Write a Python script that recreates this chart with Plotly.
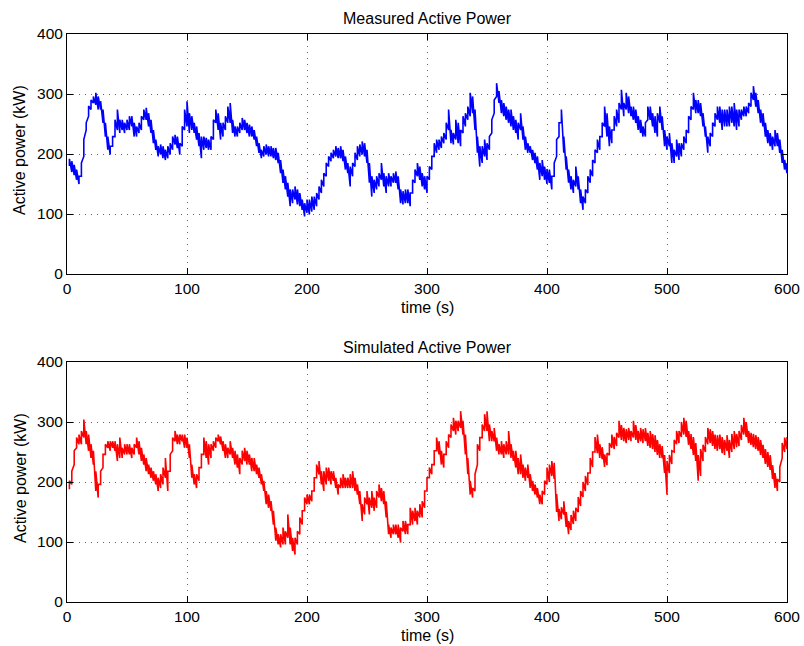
import plotly.graph_objects as go

# time base (s)
t = list(range(2, 601, 2))

# Measured active power: lower / upper edge of the noisy trace (kW)
meas_low = [
    180, 170, 165, 157, 150, 163, 196, 240, 263, 274, 285, 282, 274, 274, 252, 229, 207, 199, 213, 229,
    240, 235, 240, 235, 240, 240, 246, 229, 229, 235, 240, 257, 257, 246, 235, 218, 207, 196, 199, 193,
    190, 193, 199, 207, 216, 210, 199, 213, 240, 246, 235, 240, 235, 224, 213, 193, 207, 210, 207, 207,
    224, 252, 240, 224, 229, 240, 252, 252, 235, 229, 229, 235, 240, 240, 235, 229, 229, 224, 213, 202,
    193, 196, 199, 196, 196, 193, 190, 185, 168, 152, 141, 129, 113, 118, 124, 116, 113, 107, 96, 102,
    99, 104, 107, 113, 124, 135, 146, 163, 179, 188, 193, 196, 193, 193, 188, 174, 168, 146, 163, 179,
    190, 196, 199, 196, 185, 152, 129, 135, 141, 146, 157, 146, 135, 146, 146, 152, 152, 141, 118, 116,
    118, 118, 113, 135, 152, 163, 157, 146, 141, 135, 157, 174, 196, 202, 207, 210, 218, 224, 240, 218,
    216, 224, 218, 213, 235, 246, 257, 263, 268, 240, 202, 179, 185, 196, 190, 207, 235, 268, 296, 285,
    268, 263, 257, 252, 246, 240, 235, 224, 240, 224, 207, 202, 202, 190, 185, 174, 157, 163, 157, 150,
    152, 141, 163, 196, 229, 252, 202, 174, 152, 141, 135, 146, 141, 118, 107, 118, 135, 152, 163, 185,
    202, 207, 229, 246, 229, 213, 218, 240, 246, 252, 274, 263, 274, 268, 263, 257, 252, 240, 235, 229,
    229, 257, 257, 246, 235, 229, 252, 240, 213, 207, 213, 185, 185, 196, 190, 196, 207, 218, 235, 257,
    274, 268, 268, 263, 246, 229, 202, 213, 229, 246, 257, 252, 240, 246, 246, 246, 252, 246, 240, 246,
    257, 263, 263, 268, 279, 290, 279, 268, 252, 246, 229, 218, 213, 207, 213, 213, 202, 185, 174, 168,
]
meas_high = [
    192, 188, 182, 174, 163, 185, 224, 252, 280, 290, 296, 302, 296, 288, 274, 252, 229, 213, 229, 257,
    274, 257, 257, 252, 257, 263, 263, 252, 246, 252, 263, 274, 277, 268, 257, 240, 224, 213, 216, 213,
    207, 213, 218, 229, 232, 229, 218, 246, 274, 288, 268, 263, 252, 246, 235, 229, 229, 227, 224, 229,
    257, 274, 268, 252, 252, 263, 279, 285, 257, 246, 246, 252, 260, 257, 252, 249, 246, 240, 229, 218,
    207, 213, 216, 213, 213, 210, 210, 202, 190, 174, 163, 152, 141, 141, 146, 141, 135, 124, 118, 124,
    124, 129, 129, 135, 146, 157, 168, 185, 196, 202, 207, 213, 210, 213, 207, 196, 185, 179, 185, 202,
    213, 216, 221, 218, 207, 185, 163, 157, 163, 168, 185, 168, 163, 168, 163, 168, 171, 163, 141, 138,
    141, 141, 135, 157, 174, 185, 179, 168, 163, 163, 179, 196, 218, 224, 224, 229, 235, 252, 274, 240,
    235, 257, 252, 240, 263, 268, 279, 302, 296, 274, 229, 213, 213, 224, 218, 229, 257, 290, 318, 305,
    290, 285, 279, 274, 274, 263, 257, 252, 268, 246, 229, 218, 213, 207, 202, 196, 185, 190, 179, 175,
    174, 163, 185, 224, 252, 274, 229, 196, 174, 163, 157, 179, 163, 141, 129, 141, 163, 174, 190, 207,
    224, 229, 252, 279, 268, 246, 240, 263, 274, 285, 307, 285, 302, 296, 279, 279, 274, 263, 257, 246,
    252, 279, 279, 268, 263, 268, 279, 263, 240, 229, 235, 218, 207, 224, 218, 218, 229, 240, 263, 279,
    302, 290, 290, 285, 268, 246, 229, 235, 252, 268, 279, 279, 274, 274, 274, 279, 279, 285, 274, 274,
    274, 279, 279, 285, 302, 313, 302, 290, 274, 268, 252, 240, 235, 229, 240, 235, 224, 207, 190, 185,
]

# Simulated active power: lower / upper edge of the noisy trace (kW)
sim_low = [
    188, 196, 229, 257, 263, 263, 274, 263, 252, 240, 229, 185, 174, 196, 224, 246, 257, 252, 257, 252,
    235, 240, 240, 246, 246, 246, 240, 246, 257, 246, 235, 229, 218, 213, 207, 202, 196, 185, 190, 196,
    207, 185, 218, 252, 268, 263, 263, 268, 257, 257, 240, 207, 196, 190, 202, 224, 246, 240, 229, 240,
    252, 257, 268, 263, 252, 240, 240, 246, 240, 229, 224, 213, 229, 235, 229, 229, 218, 218, 213, 207,
    196, 185, 163, 157, 152, 129, 102, 96, 91, 96, 96, 107, 96, 85, 79, 96, 113, 129, 152, 163,
    163, 168, 185, 207, 213, 196, 185, 196, 202, 196, 202, 190, 179, 190, 190, 190, 190, 190, 190, 185,
    179, 163, 135, 146, 163, 146, 157, 152, 157, 174, 168, 163, 141, 113, 107, 113, 113, 107, 99, 118,
    113, 113, 129, 129, 135, 129, 141, 141, 157, 185, 207, 213, 229, 252, 246, 229, 224, 246, 257, 274,
    285, 279, 285, 290, 279, 246, 213, 179, 174, 185, 229, 252, 274, 285, 285, 268, 268, 268, 252, 246,
    246, 240, 246, 246, 240, 235, 224, 213, 213, 207, 202, 207, 190, 185, 179, 174, 163, 163, 179, 196,
    200, 210, 205, 150, 135, 138, 146, 125, 113, 120, 130, 135, 150, 160, 175, 185, 195, 215, 225, 250,
    248, 240, 238, 225, 228, 245, 257, 255, 260, 274, 270, 268, 265, 270, 268, 274, 270, 265, 268, 265,
    268, 260, 257, 255, 250, 245, 240, 240, 215, 179, 215, 230, 250, 263, 265, 275, 279, 275, 262, 255,
    245, 235, 202, 210, 235, 250, 263, 265, 260, 255, 252, 255, 248, 245, 252, 240, 250, 255, 258, 260,
    270, 279, 275, 265, 262, 258, 255, 252, 245, 240, 230, 225, 220, 205, 190, 185, 200, 240, 250, 255,
]
sim_high = [
    202, 218, 252, 274, 279, 285, 304, 285, 279, 263, 252, 218, 196, 218, 246, 263, 268, 268, 268, 268,
    263, 274, 257, 263, 263, 263, 257, 263, 274, 268, 257, 246, 240, 229, 224, 218, 213, 207, 213, 224,
    240, 218, 246, 274, 285, 279, 279, 279, 279, 274, 263, 229, 213, 213, 224, 246, 274, 268, 263, 263,
    268, 274, 279, 276, 268, 263, 257, 268, 257, 252, 246, 240, 252, 257, 252, 246, 240, 240, 229, 224,
    213, 202, 185, 179, 168, 152, 124, 113, 113, 124, 118, 146, 124, 107, 107, 118, 141, 152, 174, 179,
    179, 185, 207, 229, 235, 218, 218, 224, 224, 218, 218, 207, 196, 207, 213, 207, 207, 213, 218, 207,
    196, 185, 163, 174, 185, 174, 185, 174, 185, 196, 190, 185, 168, 129, 124, 129, 129, 129, 124, 135,
    135, 129, 157, 152, 157, 152, 163, 168, 185, 207, 224, 229, 252, 274, 268, 252, 246, 268, 279, 296,
    307, 302, 302, 318, 302, 279, 240, 202, 190, 213, 263, 274, 296, 313, 318, 296, 285, 290, 274, 263,
    268, 263, 268, 285, 263, 252, 252, 240, 246, 229, 224, 229, 213, 202, 196, 190, 179, 185, 202, 224,
    229, 235, 232, 180, 155, 158, 168, 150, 135, 145, 152, 157, 175, 185, 200, 210, 215, 240, 250, 275,
    279, 263, 258, 246, 248, 265, 279, 275, 282, 302, 295, 290, 288, 290, 285, 302, 295, 285, 290, 288,
    290, 282, 285, 280, 278, 270, 263, 260, 245, 235, 245, 252, 270, 285, 285, 300, 307, 302, 285, 280,
    275, 265, 245, 255, 262, 275, 290, 288, 285, 279, 278, 279, 275, 270, 278, 270, 280, 285, 280, 285,
    295, 307, 300, 285, 282, 280, 278, 275, 270, 262, 255, 250, 245, 228, 215, 205, 225, 265, 274, 275,
]

x_ticks = [0, 100, 200, 300, 400, 500, 600]
y_ticks = [0, 100, 200, 300, 400]
titles = ["Measured Active Power", "Simulated Active Power"]
x_label = "time (s)"
y_label = "Active power (kW)"


def zigzag(times, low, high):
    xs, ys = [], []
    for ti, lo, hi in zip(times, low, high):
        xs += [ti, ti]
        ys += [lo, hi]
    return xs, ys


FONT = "Liberation Sans, Arial, Helvetica, sans-serif"

fig = go.Figure()
xm, ym = zigzag(t, meas_low, meas_high)
xs_, ys_ = zigzag(t, sim_low, sim_high)
fig.add_trace(go.Scatter(x=xm, y=ym, mode="lines", line=dict(color="#0000FF", width=1.6),
                         xaxis="x", yaxis="y", showlegend=False, hoverinfo="skip"))
fig.add_trace(go.Scatter(x=xs_, y=ys_, mode="lines", line=dict(color="#FF0000", width=1.6),
                         xaxis="x2", yaxis="y2", showlegend=False, hoverinfo="skip"))

axis_common = dict(
    showline=True, linecolor="black", linewidth=1, mirror="ticks",
    ticks="inside", ticklen=6, tickcolor="black", tickwidth=1,
    showgrid=True, gridcolor="#666666", gridwidth=1, griddash="1px,5px",
    zeroline=False, automargin=False,
    tickfont=dict(family=FONT, size=15.5, color="black"),
)

top = [1 - 240 / 568, 1.0]
bot = [0.0, 240 / 568]

fig.update_layout(
    width=804, height=646,
    margin=dict(l=67, r=17, t=34, b=44, autoexpand=False),
    paper_bgcolor="white", plot_bgcolor="white",
    xaxis=dict(domain=[0, 1], anchor="y", range=[0, 600], tickvals=x_ticks, **axis_common),
    yaxis=dict(domain=top, anchor="x", range=[0, 400], tickvals=y_ticks, **axis_common),
    xaxis2=dict(domain=[0, 1], anchor="y2", range=[0, 600], tickvals=x_ticks, **axis_common),
    yaxis2=dict(domain=bot, anchor="x2", range=[0, 400], tickvals=y_ticks, **axis_common),
)

ann_font = dict(family=FONT, size=16, color="black")
annotations = [
    dict(text=titles[0], x=0.5, y=1 + 16 / 568, xref="paper", yref="paper",
         xanchor="center", yanchor="middle", showarrow=False, font=ann_font),
    dict(text=titles[1], x=0.5, y=(602 - 347) / 568, xref="paper", yref="paper",
         xanchor="center", yanchor="middle", showarrow=False, font=ann_font),
    dict(text=x_label, x=0.5, y=(602 - 307) / 568, xref="paper", yref="paper",
         xanchor="center", yanchor="middle", showarrow=False, font=ann_font),
    dict(text=x_label, x=0.5, y=(602 - 635) / 568, xref="paper", yref="paper",
         xanchor="center", yanchor="middle", showarrow=False, font=ann_font),
    dict(text=y_label, x=(20 - 67) / 720, y=(602 - 150) / 568, xref="paper", yref="paper",
         xanchor="center", yanchor="middle", textangle=-90, showarrow=False, font=ann_font),
    dict(text=y_label, x=(20 - 67) / 720, y=(602 - 478) / 568, xref="paper", yref="paper",
         xanchor="center", yanchor="middle", textangle=-90, showarrow=False, font=ann_font),
]
fig.update_layout(annotations=annotations)

# the page body has an 8px default margin; remove it so the figure fills the window
fig.write_html("out.html",
               config={"displayModeBar": False},
               post_script="document.body.style.margin='0';document.body.style.overflow='hidden';")
